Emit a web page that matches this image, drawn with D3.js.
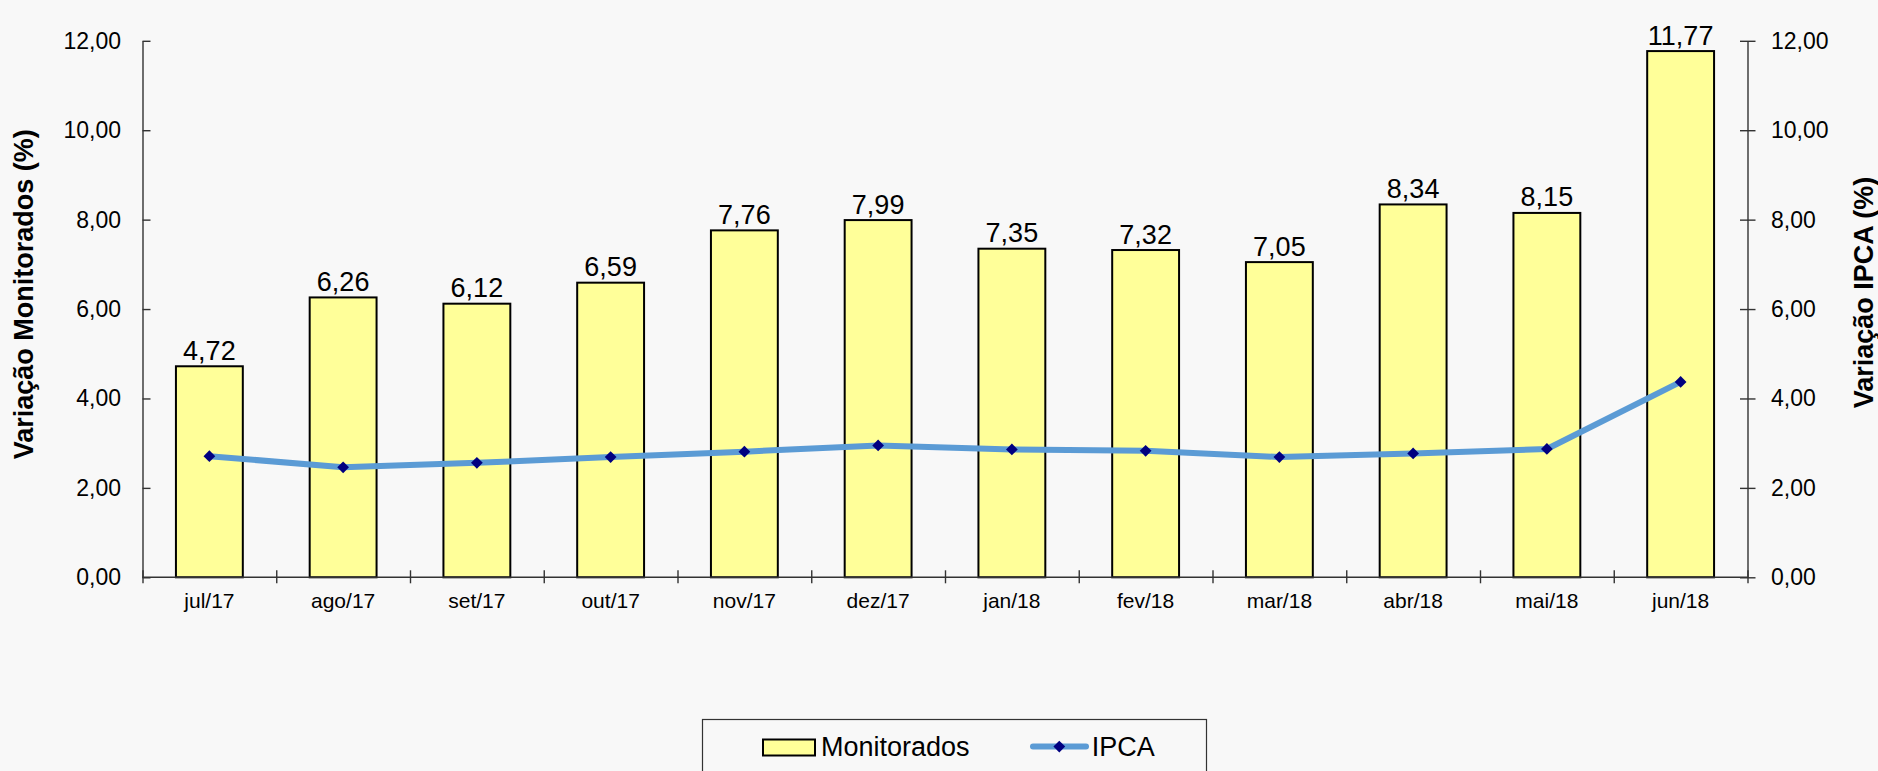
<!DOCTYPE html>
<html><head><meta charset="utf-8">
<script src="https://cdn.jsdelivr.net/npm/d3@7"></script>
<style>
html,body{margin:0;padding:0;background:#f8f8f8;}
svg{display:block;font-family:"Liberation Sans",Arial,sans-serif;}
</style></head>
<body><svg id="c" width="1878" height="771"></svg>
<script>
const categories = ["jul/17","ago/17","set/17","out/17","nov/17","dez/17","jan/18","fev/18","mar/18","abr/18","mai/18","jun/18"];
const monitorados = [4.72,6.26,6.12,6.59,7.76,7.99,7.35,7.32,7.05,8.34,8.15,11.77];
const ipca = [2.71,2.46,2.56,2.69,2.81,2.95,2.86,2.83,2.69,2.77,2.87,4.37];
const yTicks = [0,2,4,6,8,10,12];
const seriesNames = ["Monitorados","IPCA"];
const axisTitles = ["Variação Monitorados (%)","Variação IPCA (%)"];

const fmt = v => d3.format(".2f")(v).replace(".", ",");
const svg = d3.select("#c");
svg.append("rect").attr("width",1878).attr("height",771).attr("fill","#f8f8f8");

const L = 142.5, R = 1747.5, T = 40.8, B = 577.3;
const x = d3.scaleBand().domain(categories).range([L,R]).paddingInner(0.5).paddingOuter(0.25);
const xb = d3.scaleLinear().domain([0,categories.length]).range([L,R]);
const y = d3.scaleLinear().domain([0,12]).range([B,T]);
const y2 = d3.scaleLinear().domain([0,12]).range([B,T]);
const FONT = "Liberation Sans, Arial, sans-serif";

// bars
svg.append("g").selectAll("rect").data(monitorados).join("rect")
  .attr("x",(d,i)=>x(categories[i])).attr("y",d=>y(d))
  .attr("width",x.bandwidth()).attr("height",d=>B-y(d))
  .attr("fill","#ffff99").attr("stroke","#000").attr("stroke-width",2);

// data labels
svg.append("g").selectAll("text").data(monitorados).join("text")
  .attr("x",(d,i)=>x(categories[i])+x.bandwidth()/2)
  .attr("y",d=>y(d)-6.5)
  .attr("text-anchor","middle").attr("font-size",27).attr("fill","#000")
  .text(d=>fmt(d));

// axes
function styleAxis(g){
  g.select(".domain").attr("stroke","#333").attr("stroke-width",1.4);
  g.selectAll(".tick line").attr("stroke","#333").attr("stroke-width",1.4);
}
const gl = svg.append("g").attr("transform",`translate(${L},0)`)
  .call(d3.axisLeft(y).tickValues(yTicks).tickFormat(fmt).tickSizeOuter(0).tickSizeInner(7).tickPadding(14.5));
gl.selectAll(".tick line").attr("x2",8);
gl.selectAll(".tick text").attr("font-size",23).attr("fill","#000").attr("font-family",FONT);
styleAxis(gl);

const gr = svg.append("g").attr("transform",`translate(${R},0)`)
  .call(d3.axisRight(y2).tickValues(yTicks).tickFormat(fmt).tickSizeOuter(0).tickSizeInner(8).tickPadding(15.5));
gr.selectAll(".tick line").attr("x1",-7.5);
gr.selectAll(".tick text").attr("font-size",23).attr("fill","#000").attr("font-family",FONT);
styleAxis(gr);

// x axis line and boundary ticks
const gx = svg.append("g").attr("transform",`translate(0,${B})`)
  .call(d3.axisBottom(xb).tickValues(d3.range(0,categories.length+1)).tickFormat("").tickSizeOuter(0).tickSizeInner(6));
gx.selectAll(".tick line").attr("y1",-7);
styleAxis(gx);
gx.select(".domain").attr("d",`M${L},0H${R}`);

const gxl = svg.append("g").attr("transform",`translate(0,${B})`)
  .call(d3.axisBottom(x).tickSize(0).tickPadding(16));
gxl.select(".domain").remove();
gxl.selectAll(".tick text").attr("font-size",21).attr("fill","#000").attr("font-family",FONT);

// line
const line = d3.line().x((d,i)=>x(categories[i])+x.bandwidth()/2).y(d=>y2(d));
svg.append("path").datum(ipca).attr("d",line).attr("fill","none")
  .attr("stroke","#5b9bd5").attr("stroke-width",6).attr("stroke-linejoin","round");
const diamond = d3.symbol().type(d3.symbolDiamond2).size(88);
svg.append("g").selectAll("path").data(ipca).join("path")
  .attr("transform",(d,i)=>`translate(${x(categories[i])+x.bandwidth()/2},${y2(d)})`)
  .attr("d",diamond).attr("fill","#000080");

// axis titles
svg.append("text").attr("transform","translate(33.3,294.3) rotate(-90)")
  .attr("text-anchor","middle").attr("font-size",27).attr("font-weight","bold").text(axisTitles[0]);
svg.append("text").attr("transform","translate(1873,292.5) rotate(-90)")
  .attr("text-anchor","middle").attr("font-size",27).attr("font-weight","bold").text(axisTitles[1]);

// legend
const lg = svg.append("g");
lg.append("rect").attr("x",702.5).attr("y",719.5).attr("width",504).attr("height",80)
  .attr("fill","none").attr("stroke","#333").attr("stroke-width",1.2);
lg.append("rect").attr("x",763).attr("y",739.5).attr("width",52).attr("height",16)
  .attr("fill","#ffff99").attr("stroke","#000").attr("stroke-width",2);
lg.append("text").attr("x",821).attr("y",755.7).attr("font-size",27).text(seriesNames[0]);
lg.append("line").attr("x1",1033).attr("x2",1086).attr("y1",746.5).attr("y2",746.5)
  .attr("stroke","#5b9bd5").attr("stroke-width",6).attr("stroke-linecap","round");
lg.append("path").attr("transform","translate(1059.3,746.5)").attr("d",diamond).attr("fill","#000080");
lg.append("text").attr("x",1091.7).attr("y",755.7).attr("font-size",27).text(seriesNames[1]);
</script></body></html>
